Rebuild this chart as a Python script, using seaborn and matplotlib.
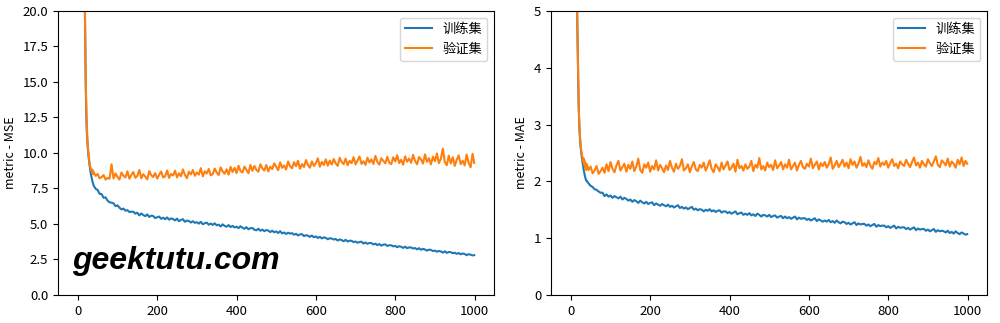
import matplotlib
matplotlib.use("Agg")
import numpy as np
import pandas as pd
import matplotlib.pyplot as plt
import seaborn as sns

plt.rcParams['font.family'] = ['Noto Sans CJK SC', 'DejaVu Sans']
plt.rcParams['axes.unicode_minus'] = False

# epoch index of each recorded value: every epoch at the start, then every 5th
epochs = list(range(0, 40)) + list(range(40, 1000, 5)) + [999]

series_names = ['训练集', '验证集']

train_mse = [
    571.9, 518.3, 463.0, 405.6, 346.8, 288.1, 231.5, 180.2, 136.4, 101.3,
    74.6, 58.9, 52.0, 41.0, 33.5, 28.4, 24.8, 22.1, 19.6, 16.8,
    14.6, 13.1, 12.0, 11.3, 10.8, 10.4, 10.05, 9.76, 9.50, 9.27,
    9.06, 8.86, 8.68, 8.51, 8.36, 8.22, 8.10, 7.98, 7.88, 7.78,
    7.70, 7.47, 7.39, 7.12, 7.10, 6.84, 6.87, 6.64, 6.52, 6.50,
    6.45, 6.25, 6.31, 6.14, 6.02, 6.08, 5.93, 5.97, 5.84, 5.86,
    5.86, 5.72, 5.79, 5.60, 5.74, 5.62, 5.55, 5.67, 5.49, 5.58,
    5.56, 5.41, 5.47, 5.52, 5.36, 5.44, 5.33, 5.46, 5.30, 5.39,
    5.34, 5.25, 5.37, 5.19, 5.28, 5.33, 5.15, 5.24, 5.20, 5.10,
    5.19, 5.08, 5.12, 5.02, 5.15, 4.98, 5.05, 5.09, 4.94, 5.03,
    4.93, 5.04, 4.90, 4.95, 4.82, 4.97, 4.86, 4.80, 4.92, 4.78,
    4.86, 4.75, 4.81, 4.70, 4.84, 4.73, 4.66, 4.77, 4.62, 4.70,
    4.71, 4.59, 4.55, 4.66, 4.52, 4.60, 4.49, 4.57, 4.53, 4.43,
    4.52, 4.41, 4.47, 4.36, 4.49, 4.33, 4.40, 4.29, 4.38, 4.32,
    4.35, 4.24, 4.30, 4.19, 4.26, 4.28, 4.14, 4.21, 4.17, 4.09,
    4.18, 4.06, 4.12, 4.01, 4.09, 3.98, 4.05, 4.02, 3.92, 3.99,
    3.97, 3.90, 3.94, 3.83, 3.91, 3.86, 3.78, 3.88, 3.76, 3.82,
    3.81, 3.72, 3.76, 3.67, 3.73, 3.75, 3.62, 3.69, 3.60, 3.66,
    3.65, 3.55, 3.61, 3.51, 3.58, 3.47, 3.54, 3.56, 3.45, 3.50,
    3.49, 3.42, 3.45, 3.36, 3.43, 3.39, 3.31, 3.40, 3.29, 3.35,
    3.34, 3.27, 3.30, 3.21, 3.29, 3.18, 3.24, 3.20, 3.12, 3.19,
    3.17, 3.09, 3.12, 3.04, 3.10, 3.06, 2.98, 3.07, 2.96, 3.02,
    3.01, 2.94, 2.97, 2.89, 2.95, 2.86, 2.92, 2.88, 2.80, 2.87,
    2.83, 2.78, 2.80,
]

val_mse = [
    562.4, 507.9, 451.2, 393.0, 334.7, 277.3, 222.8, 173.9, 132.5, 99.6,
    74.8, 60.1, 53.2, 42.0, 34.3, 29.1, 25.4, 22.6, 20.1, 17.3,
    15.1, 13.6, 12.5, 11.7, 11.1, 10.6, 10.2, 9.91, 9.66, 9.44,
    9.25, 9.10, 8.96, 8.87, 8.80, 8.71, 8.84, 8.58, 8.76, 8.50,
    8.65, 8.38, 8.52, 8.21, 8.30, 8.44, 8.12, 8.25, 8.18, 9.20,
    8.20, 8.55, 8.31, 8.12, 8.62, 8.40, 8.28, 8.71, 8.19, 8.45,
    8.66, 8.25, 8.38, 8.80, 8.21, 8.50, 8.33, 8.14, 8.72, 8.44,
    8.30, 8.58, 8.19, 8.46, 8.69, 8.27, 8.35, 8.77, 8.24, 8.52,
    8.41, 8.75, 8.28, 8.57, 8.36, 8.84, 8.45, 8.22, 8.68, 8.49,
    8.80, 8.39, 8.62, 8.47, 8.93, 8.35, 8.71, 8.55, 8.87, 8.42,
    8.51, 8.90, 8.62, 8.44, 8.98, 8.70, 8.53, 8.85, 8.47, 9.02,
    8.66, 8.95, 8.58, 9.10, 8.73, 8.62, 9.04, 8.80, 8.57, 9.16,
    8.74, 9.09, 8.81, 8.67, 9.20, 8.92, 8.76, 9.15, 8.70, 9.03,
    8.86, 9.27, 9.01, 8.79, 9.34, 8.95, 9.12, 8.83, 9.40, 9.05,
    8.92, 9.35, 9.06, 9.45, 8.89, 9.21, 9.01, 9.50, 9.14, 8.96,
    9.41, 9.08, 9.28, 9.62, 9.03, 9.37, 9.15, 9.55, 9.10, 9.46,
    9.18, 9.57, 9.26, 9.09, 9.66, 9.35, 9.21, 9.60, 9.14, 9.44,
    9.28, 9.70, 9.19, 9.48, 9.75, 9.23, 9.41, 9.16, 9.67, 9.33,
    9.55, 9.22, 9.79, 9.36, 9.18, 9.62, 9.44, 9.27, 9.73, 9.30,
    9.21, 9.69, 9.40, 9.84, 9.29, 9.52, 9.17, 9.76, 9.38, 9.60,
    9.30, 9.86, 9.44, 9.20, 9.71, 9.55, 9.25, 9.90, 9.37, 9.63,
    9.19, 9.74, 9.42, 9.96, 9.28, 9.58, 10.30, 9.35, 9.14, 9.81,
    9.26, 9.70, 9.09, 9.52, 9.83, 9.21, 9.45, 9.12, 9.88, 9.31,
    8.99, 9.94, 9.30,
]

train_mae = [
    22.4, 21.1, 19.7, 18.2, 16.6, 14.9, 13.2, 11.5, 9.9, 8.6,
    7.6, 6.8, 6.2, 5.8, 5.5, 5.25, 4.95, 4.55, 4.05, 3.60,
    3.28, 3.05, 2.88, 2.76, 2.66, 2.58, 2.52, 2.46, 2.41, 2.36,
    2.31, 2.26, 2.22, 2.18, 2.14, 2.11, 2.08, 2.05, 2.03, 2.01,
    2.01, 1.96, 1.92, 1.90, 1.86, 1.85, 1.82, 1.80, 1.80, 1.74,
    1.77, 1.73, 1.75, 1.71, 1.74, 1.72, 1.70, 1.73, 1.68, 1.71,
    1.69, 1.66, 1.68, 1.64, 1.67, 1.65, 1.62, 1.66, 1.63, 1.61,
    1.64, 1.60, 1.62, 1.63, 1.58, 1.61, 1.59, 1.57, 1.60, 1.58,
    1.56, 1.59, 1.55, 1.57, 1.54, 1.56, 1.58, 1.53, 1.55, 1.52,
    1.54, 1.51, 1.53, 1.55, 1.50, 1.52, 1.49, 1.51, 1.50, 1.47,
    1.50, 1.48, 1.51, 1.47, 1.49, 1.46, 1.48, 1.49, 1.45, 1.47,
    1.47, 1.44, 1.46, 1.43, 1.45, 1.47, 1.42, 1.44, 1.45, 1.41,
    1.43, 1.41, 1.44, 1.40, 1.42, 1.39, 1.43, 1.41, 1.38, 1.41,
    1.40, 1.38, 1.41, 1.37, 1.39, 1.40, 1.36, 1.38, 1.39, 1.35,
    1.38, 1.35, 1.37, 1.34, 1.36, 1.38, 1.33, 1.36, 1.34, 1.35,
    1.35, 1.32, 1.34, 1.31, 1.33, 1.35, 1.30, 1.33, 1.31, 1.29,
    1.31, 1.29, 1.32, 1.28, 1.30, 1.27, 1.31, 1.28, 1.26, 1.29,
    1.28, 1.25, 1.27, 1.24, 1.26, 1.28, 1.23, 1.26, 1.24, 1.25,
    1.25, 1.22, 1.24, 1.21, 1.23, 1.25, 1.20, 1.23, 1.21, 1.22,
    1.22, 1.19, 1.21, 1.18, 1.20, 1.22, 1.17, 1.20, 1.18, 1.19,
    1.19, 1.16, 1.18, 1.15, 1.17, 1.19, 1.14, 1.17, 1.15, 1.16,
    1.16, 1.13, 1.15, 1.12, 1.14, 1.16, 1.11, 1.14, 1.12, 1.13,
    1.12, 1.10, 1.13, 1.09, 1.11, 1.08, 1.12, 1.09, 1.07, 1.10,
    1.08, 1.06, 1.07,
]

val_mae = [
    22.2, 20.9, 19.4, 17.9, 16.3, 14.6, 12.9, 11.3, 9.8, 8.6,
    7.6, 6.9, 6.3, 5.9, 5.6, 5.3, 5.0, 4.6, 4.1, 3.66,
    3.34, 3.10, 2.93, 2.80, 2.70, 2.62, 2.56, 2.51, 2.47, 2.44,
    2.40, 2.35, 2.41, 2.31, 2.37, 2.26, 2.33, 2.23, 2.30, 2.20,
    2.31, 2.20, 2.26, 2.14, 2.19, 2.27, 2.13, 2.18, 2.24, 2.15,
    2.30, 2.18, 2.34, 2.22, 2.16, 2.28, 2.36, 2.19, 2.25, 2.31,
    2.17, 2.29, 2.22, 2.35, 2.18, 2.26, 2.40, 2.20, 2.15, 2.30,
    2.24, 2.33, 2.17, 2.27, 2.21, 2.37, 2.19, 2.29, 2.23, 2.16,
    2.28, 2.20, 2.36, 2.24, 2.17, 2.31, 2.22, 2.27, 2.39, 2.19,
    2.23, 2.30, 2.16, 2.26, 2.34, 2.21, 2.18, 2.29, 2.24, 2.33,
    2.19, 2.27, 2.37, 2.22, 2.16, 2.30, 2.25, 2.18, 2.33, 2.21,
    2.28, 2.35, 2.20, 2.24, 2.31, 2.17, 2.38, 2.23, 2.27, 2.19,
    2.30, 2.22, 2.26, 2.36, 2.18, 2.29, 2.24, 2.41, 2.21, 2.27,
    2.19, 2.33, 2.25, 2.29, 2.20, 2.37, 2.23, 2.28, 2.34, 2.21,
    2.30, 2.24, 2.38, 2.21, 2.27, 2.33, 2.19, 2.29, 2.36, 2.25,
    2.22, 2.31, 2.26, 2.40, 2.23, 2.29, 2.35, 2.21, 2.32, 2.27,
    2.34, 2.24, 2.30, 2.42, 2.22, 2.28, 2.36, 2.25, 2.31, 2.38,
    2.26, 2.33, 2.23, 2.39, 2.29, 2.35, 2.24, 2.31, 2.43, 2.27,
    2.32, 2.25, 2.37, 2.28, 2.22, 2.34, 2.30, 2.41, 2.26, 2.33,
    2.29, 2.36, 2.24, 2.32, 2.39, 2.27, 2.31, 2.23, 2.35, 2.30,
    2.27, 2.38, 2.31, 2.25, 2.34, 2.42, 2.28, 2.33, 2.24, 2.36,
    2.30, 2.26, 2.39, 2.32, 2.27, 2.35, 2.44, 2.29, 2.25, 2.37,
    2.33, 2.28, 2.40, 2.26, 2.35, 2.31, 2.24, 2.38, 2.30, 2.42,
    2.27, 2.36, 2.31,
]

mse_ticks = [0.0, 2.5, 5.0, 7.5, 10.0, 12.5, 15.0, 17.5, 20.0]
mae_ticks = [0, 1, 2, 3, 4, 5]


def history_frame(train, val):
    return pd.DataFrame({
        'epoch': epochs + epochs,
        'value': train + val,
        'series': [series_names[0]] * len(train) + [series_names[1]] * len(val),
    })


palette = {series_names[0]: '#1f77b4', series_names[1]: '#ff7f0e'}

fig = plt.figure(figsize=(10, 3.23), dpi=100)
ax_mse = fig.add_axes([0.058, 0.087, 0.436, 0.879])
ax_mae = fig.add_axes([0.551, 0.087, 0.436, 0.879])

panels = [
    (ax_mse, train_mse, val_mse, 'metric - MSE', (0, 20), mse_ticks),
    (ax_mae, train_mae, val_mae, 'metric - MAE', (0, 5), mae_ticks),
]

for ax, train, val, ylabel, ylim, yticks in panels:
    sns.lineplot(data=history_frame(train, val), x='epoch', y='value',
                 hue='series', palette=palette, estimator=None,
                 linewidth=1.5, ax=ax)
    ax.set_ylim(*ylim)
    ax.set_yticks(yticks)
    ax.set_xticks([0, 200, 400, 600, 800, 1000])
    ax.set_xlabel('')
    ax.set_ylabel(ylabel, fontsize=9)
    ax.tick_params(labelsize=9.5)
    sns.move_legend(ax, 'upper right', title=None, fontsize=9.5)

fig.text(0.072, 0.167, 'geektutu.com', fontsize=23, fontweight='bold',
         fontstyle='italic', family=['Liberation Sans', 'DejaVu Sans'],
         color='black', va='baseline', ha='left')

fig.savefig('out.png', dpi=100)
